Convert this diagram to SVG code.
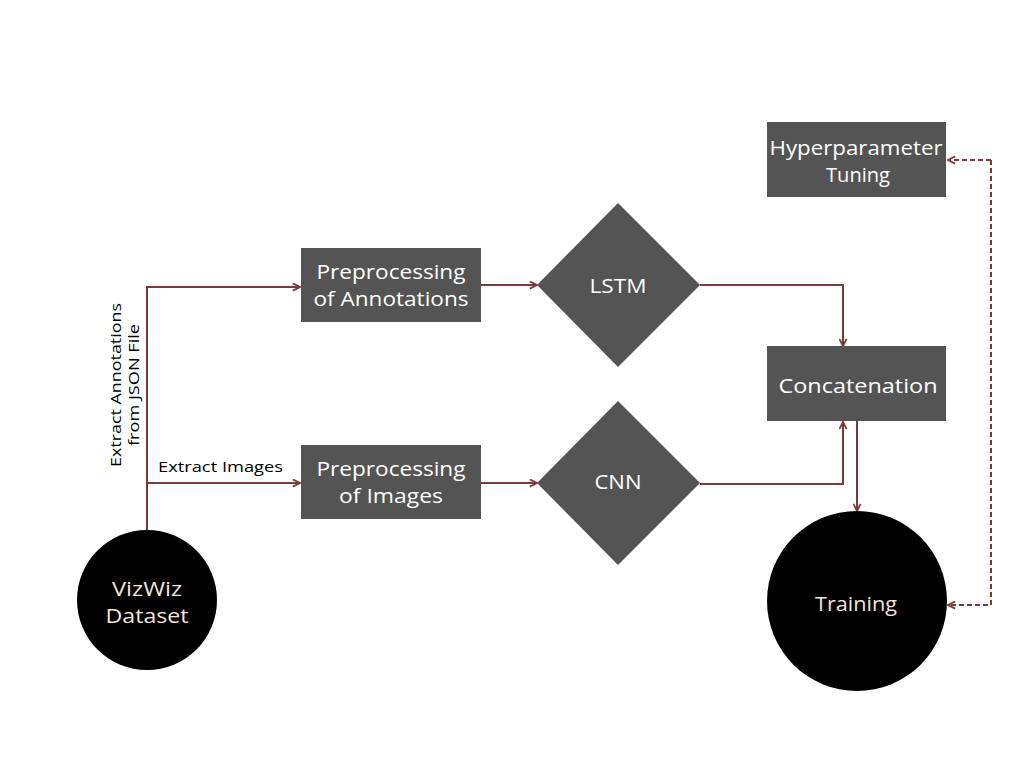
<svg xmlns="http://www.w3.org/2000/svg" width="1024" height="768" viewBox="0 0 1024 768">
<defs>
<style>
.box{fill:#545454}
.circ{fill:#000}
.t{font-family:"Open Sans","Lato",sans-serif;font-size:20px;fill:#fff;text-anchor:middle}
.tc{font-family:"Open Sans","Lato",sans-serif;font-size:20px;fill:#f3e4d8;text-anchor:middle}
.lbl{font-family:"Open Sans","Lato",sans-serif;font-size:15px;fill:#000}
.ln{fill:none;stroke:#7b3b34;stroke-width:2}
.dash{fill:none;stroke:#7b3b34;stroke-width:2;stroke-dasharray:5 3}
</style>
<marker id="ah" viewBox="0 0 10 10" refX="9" refY="5" markerWidth="9" markerHeight="9" markerUnits="userSpaceOnUse" orient="auto">
<path d="M1,1 L9,5 L1,9" fill="none" stroke="#7b3b34" stroke-width="2"/>
</marker>
</defs>
<rect width="1024" height="768" fill="#fff"/>
<g id="connectors">
<path class="ln" d="M147,530 V287 H300" marker-end="url(#ah)"/>
<path class="ln" d="M147,483 H300" marker-end="url(#ah)"/>
<path class="ln" d="M481,285 H537" marker-end="url(#ah)"/>
<path class="ln" d="M481,483 H537" marker-end="url(#ah)"/>
<path class="ln" d="M700,285 H843 V346" marker-end="url(#ah)"/>
<path class="ln" d="M700,484 H843 V422" marker-end="url(#ah)"/>
<path class="ln" d="M857,421 V511" marker-end="url(#ah)"/>
<path class="dash" d="M991,160 V605 H948" marker-end="url(#ah)"/>
<path class="dash" d="M991,160 H948" marker-end="url(#ah)"/>
<text class="lbl" text-anchor="middle" transform="translate(121,385) rotate(-90)"><tspan x="0" y="0" textLength="164" lengthAdjust="spacingAndGlyphs">Extract Annotations</tspan><tspan x="0" y="18" textLength="122" lengthAdjust="spacingAndGlyphs">from JSON File</tspan></text>
<text class="lbl" x="158" y="472" textLength="125" lengthAdjust="spacingAndGlyphs">Extract Images</text>
</g>
<g id="vizwiz">
<circle class="circ" cx="147" cy="600" r="70"/>
<text class="tc" x="147" y="596" textLength="70" lengthAdjust="spacingAndGlyphs">VizWiz</text>
<text class="tc" x="147" y="623" textLength="83" lengthAdjust="spacingAndGlyphs">Dataset</text>
</g>
<g id="prep-ann">
<rect class="box" x="301" y="248" width="180" height="74"/>
<text class="t" x="391" y="279" textLength="149" lengthAdjust="spacingAndGlyphs">Preprocessing</text>
<text class="t" x="391" y="306" textLength="155" lengthAdjust="spacingAndGlyphs">of Annotations</text>
</g>
<g id="prep-img">
<rect class="box" x="301" y="445" width="180" height="74"/>
<text class="t" x="391" y="476" textLength="149" lengthAdjust="spacingAndGlyphs">Preprocessing</text>
<text class="t" x="391" y="503" textLength="104" lengthAdjust="spacingAndGlyphs">of Images</text>
</g>
<g id="lstm">
<polygon class="box" points="618,203 700,285 618,367 537,285"/>
<text class="t" x="618" y="293" textLength="57" lengthAdjust="spacingAndGlyphs">LSTM</text>
</g>
<g id="cnn">
<polygon class="box" points="618,401 700,483 618,565 537,483"/>
<text class="t" x="618" y="489" textLength="47" lengthAdjust="spacingAndGlyphs">CNN</text>
</g>
<g id="hyper">
<rect class="box" x="767" y="122" width="179" height="75"/>
<text class="t" x="856" y="155" textLength="173" lengthAdjust="spacingAndGlyphs">Hyperparameter</text>
<text class="t" x="858" y="182" textLength="64" lengthAdjust="spacingAndGlyphs">Tuning</text>
</g>
<g id="concat">
<rect class="box" x="767" y="346" width="179" height="75"/>
<text class="t" x="858" y="393" textLength="159" lengthAdjust="spacingAndGlyphs">Concatenation</text>
</g>
<g id="training">
<circle class="circ" cx="857" cy="601" r="90"/>
<text class="tc" x="856" y="611" textLength="82" lengthAdjust="spacingAndGlyphs">Training</text>
</g>
</svg>
